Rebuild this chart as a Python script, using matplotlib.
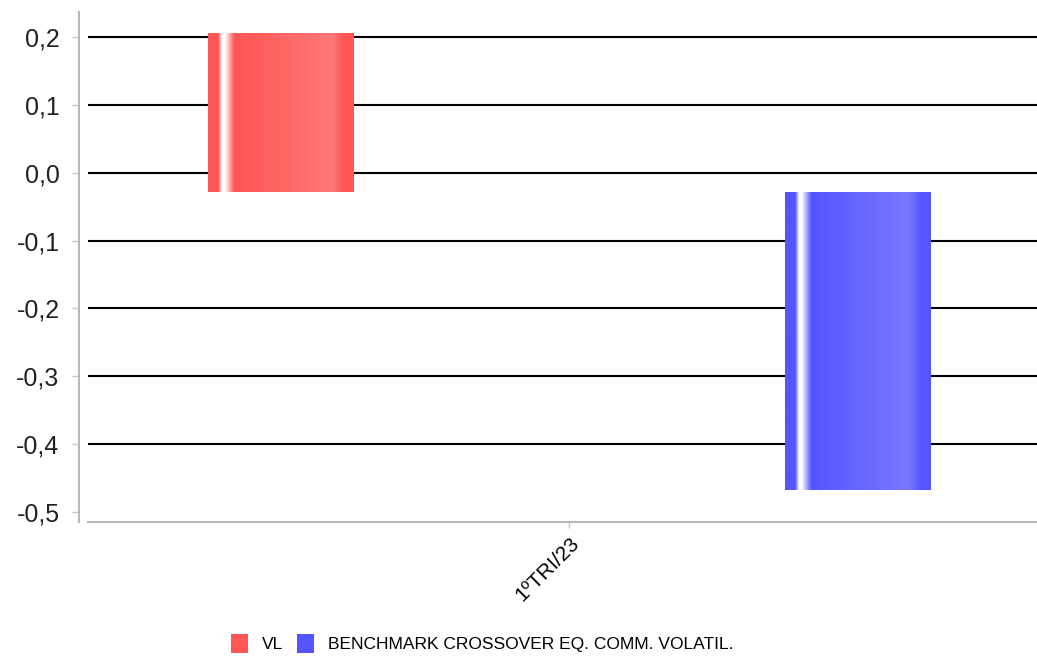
import numpy as np
import matplotlib
matplotlib.use("Agg")
import matplotlib.pyplot as plt

plt.rcParams.update({
    "font.family": ["Liberation Sans", "DejaVu Sans"],
    "font.size": 12,
})

# ---------------- data ----------------
categories = ["1ºTRI/23"]
series_names = ["VL", "BENCHMARK CROSSOVER EQ. COMM. VOLATIL."]
series_values = [0.205, -0.467]     # bar ends
baseline = -0.029                   # bars are drawn from this level
yticks = [0.2, 0.1, 0.0, -0.1, -0.2, -0.3, -0.4, -0.5]
ytick_labels = ["0,2", "0,1", "0,0", "-0,1", "-0,2", "-0,3", "-0,4", "-0,5"]

BASE = [(255, 85, 85), (85, 85, 255)]
LIGHT = [(255, 120, 120), (120, 120, 255)]


def bar_gradient(base, light, n=300):
    # glossy strip profile: base, white highlight, base, slow lighten, base at edge
    t = np.linspace(0, 1, n)
    pts = [0.0, 0.07, 0.095, 0.115, 0.18, 0.85, 0.93, 1.0]
    base = np.array(base) / 255
    light = np.array(light) / 255
    white = np.array([1.0, 1.0, 1.0])
    cols = [base, base, white, white, base, light, base, base]
    img = np.zeros((1, n, 3))
    for k in range(3):
        img[0, :, k] = np.interp(t, pts, [c[k] for c in cols])
    return img


fig = plt.figure(figsize=(10.37, 6.58), dpi=100)
ax = fig.add_axes([88 / 1037, 1 - 522 / 658, 949 / 1037, 510 / 658])

# spines first: moving a spine resets the tick labels
for s in ["top", "right"]:
    ax.spines[s].set_visible(False)
ax.spines["left"].set_position(("outward", 6.5))
ax.spines["left"].set_color("#b8b8b8")
ax.spines["left"].set_linewidth(1.5)
ax.spines["bottom"].set_color("#b8b8b8")
ax.spines["bottom"].set_linewidth(1.5)

offsets = [-0.304, 0.304]
width = 0.153
handles = []
for i, (name, v) in enumerate(zip(series_names, series_values)):
    col = np.array(BASE[i]) / 255
    b = ax.bar(offsets[i], v - baseline, width, bottom=baseline,
               color=col, zorder=2, label=name)
    handles.append(b)
    p = b.patches[0]
    x0, y0 = p.get_x(), p.get_y()
    x1, y1 = x0 + p.get_width(), y0 + p.get_height()
    ax.imshow(bar_gradient(BASE[i], LIGHT[i]), extent=[x0, x1, min(y0, y1), max(y0, y1)],
              aspect="auto", interpolation="bilinear", zorder=3)

for t in yticks:
    if t > min(yticks):
        ax.axhline(t, color="black", lw=1.5, zorder=1)

ax.set_xlim(-0.507, 0.493)
ax.set_ylim(-0.5147, 0.2368)
ax.set_yticks(yticks)
ax.set_yticklabels(ytick_labels, fontsize=18, color="#222222")
ax.set_xticks([0])
ax.set_xticklabels(categories, rotation=45, ha="right", va="top",
                   rotation_mode="anchor", fontsize=15)
ax.tick_params(axis="y", length=5, width=1, color="#c8c8c8", pad=9)
ax.tick_params(axis="x", length=4, width=1, color="#c8c8c8", pad=4)

fig.legend(handles=handles, labels=series_names, loc="center",
           bbox_to_anchor=(0.465, 0.022), ncol=2, frameon=False,
           handlelength=1.0, handleheight=1.3, handletextpad=0.8,
           columnspacing=0.8, fontsize=12.5)

fig.savefig("out.png", dpi=100)
